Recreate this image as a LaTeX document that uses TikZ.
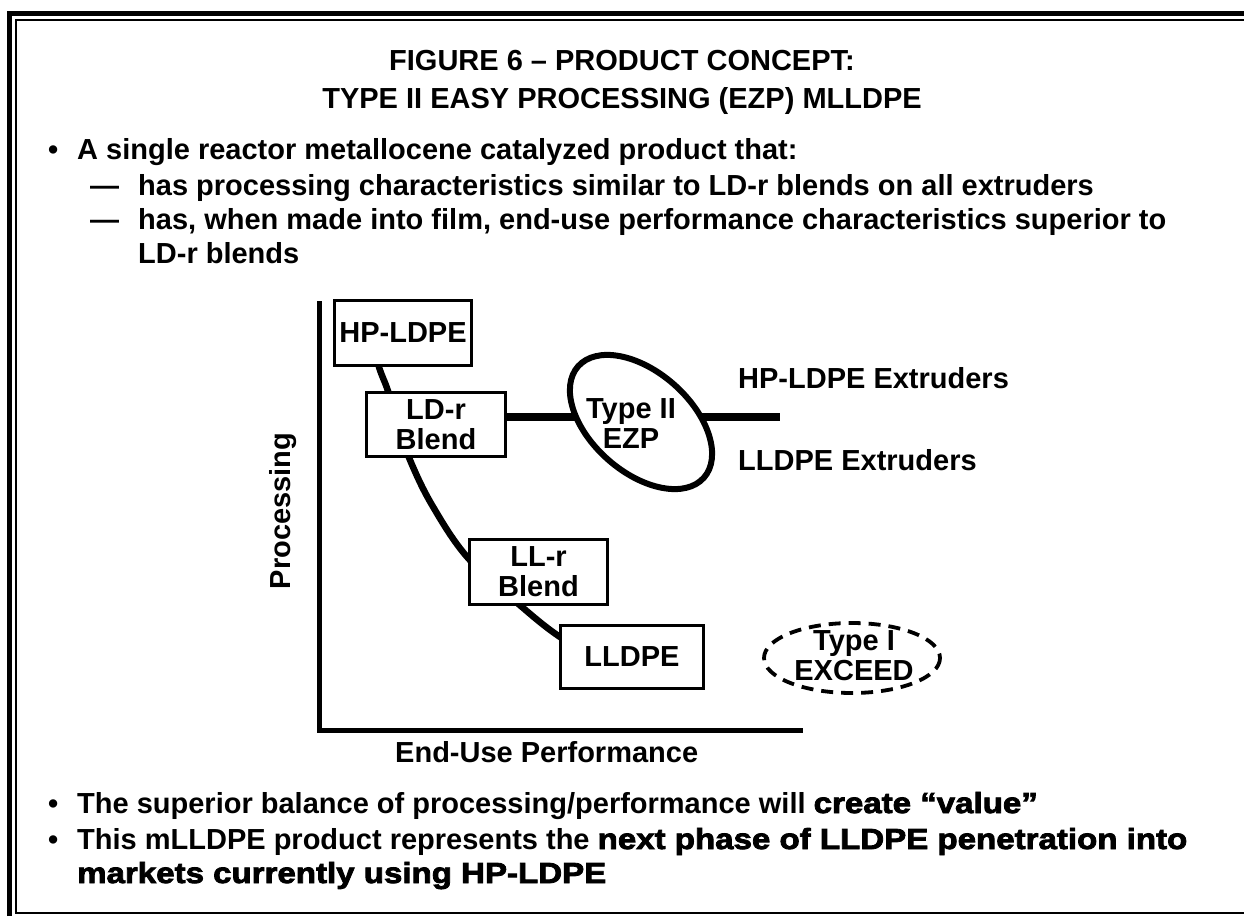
\documentclass[tikz,border=0pt]{standalone}
\usepackage{fontspec}
\setmainfont{Liberation Sans}
\newfontfamily\heavy{Liberation Sans Bold}[FakeBold=2.8,FakeStretch=1.14]
\begin{document}
\begin{tikzpicture}[x=1pt,y=-1pt,
  txt/.style={font=\fontsize{29}{30}\selectfont\bfseries, inner sep=0pt},
  lbl/.style={font=\fontsize{29}{30}\selectfont\bfseries, inner sep=0pt, align=center},
  boxnode/.style={draw, line width=3.3pt, fill=white, inner sep=0pt, align=center,
     font=\fontsize{29}{30}\selectfont\bfseries},
  axisline/.style={line width=5pt},
  curveline/.style={line width=6.5pt},
  barline/.style={line width=8pt},
  ezline/.style={line width=6pt},
  dashline/.style={line width=3.8pt, dash pattern=on 12pt off 8pt}]
\useasboundingbox (0,0) rectangle (1244,916);
% frame
\draw[line width=5pt] (9.5,916) -- (9.5,13.5) -- (1244,13.5);
\draw[line width=1.6pt] (15.8,913) -- (15.8,20) -- (1244,20);
\draw[line width=2.5pt] (15,913) -- (1244,913);
% title
\node[txt, anchor=base] (t1) at (622,70) {FIGURE 6 – PRODUCT CONCEPT:};
\node[txt, anchor=base] (t2) at (622,108) {TYPE II EASY PROCESSING (EZP) MLLDPE};
% bullets top
\node[txt, anchor=base west] (d1) at (48,159) {•};
\node[txt, anchor=base west] (b1) at (77,159) {A single reactor metallocene catalyzed product that:};
\node[txt, anchor=base west] (m1) at (90,195) {—};
\node[txt, anchor=base west] (b2) at (138,195) {has processing characteristics similar to LD-r blends on all extruders};
\node[txt, anchor=base west] (m2) at (90,229) {—};
\node[txt, anchor=base west] (b3) at (138,229) {has, when made into film, end-use performance characteristics superior to};
\node[txt, anchor=base west] (b3b) at (138,263) {LD-r blends};
% axes
\coordinate (ytop) at (319.5,301);
\coordinate (origin) at (319.5,730);
\coordinate (xend) at (803,730);
\draw[axisline] (ytop) -- (origin) -- (xend);
\node[lbl, rotate=90] (ylab) at (283,511) {Processing};
\node[txt, anchor=base west] (xlab) at (395,762) {End-Use Performance};
% curve behind boxes
\coordinate (c0) at (371,335);
\coordinate (c9) at (600,660);
\draw[curveline] plot[smooth, tension=0.6] coordinates {(c0) (379,367) (388,391) (398,425) (410,460) (432,505) (468,558) (522,607) (560,637) (c9)};
% horizontal bar
\coordinate (ezc) at (641,422);
\coordinate (lend) at (780,417);
% boxes
\node[boxnode, minimum width=137pt, minimum height=65pt] (hp) at (403,333) {HP-LDPE};
\node[boxnode, minimum width=139pt, minimum height=64pt] (ld) at (436,424.5) {LD-r\\Blend};
\node[boxnode, minimum width=138pt, minimum height=65pt] (ll) at (538.5,572) {LL-r\\Blend};
\node[boxnode, minimum width=143pt, minimum height=63pt] (lldpe) at (632,657) {LLDPE};
\draw[barline] (ld.east |- lend) -- (lend);
\draw[ezline, fill=white, rotate around={-41.5:(ezc)}] (ezc) ellipse [x radius=84, y radius=50];
\node[lbl] (ez) at (631,424) {Type II\\EZP};
\node[txt, anchor=base west] (hpx) at (738,388) {HP-LDPE Extruders};
\node[txt, anchor=base west] (llx) at (738,470) {LLDPE Extruders};
% dashed ellipse
\coordinate (exc) at (852,658);
\draw[dashline] (exc) ellipse [x radius=88, y radius=35];
\node[lbl] (ex) at (854,656) {Type I\\EXCEED};
% bottom bullets
\node[txt, anchor=base west] (d3) at (48,813) {•};
\node[txt, anchor=base west] (b4) at (77,813) {The superior balance of processing/performance will {\heavy\mdseries create “value”}};
\node[txt, anchor=base west] (d4) at (48,849) {•};
\node[txt, anchor=base west] (b5) at (77,849) {This mLLDPE product represents the {\heavy\mdseries next phase of LLDPE penetration into}};
\node[txt, anchor=base west] (b5b) at (77,883) {\heavy\mdseries markets currently using HP-LDPE};
\end{tikzpicture}
\end{document}
